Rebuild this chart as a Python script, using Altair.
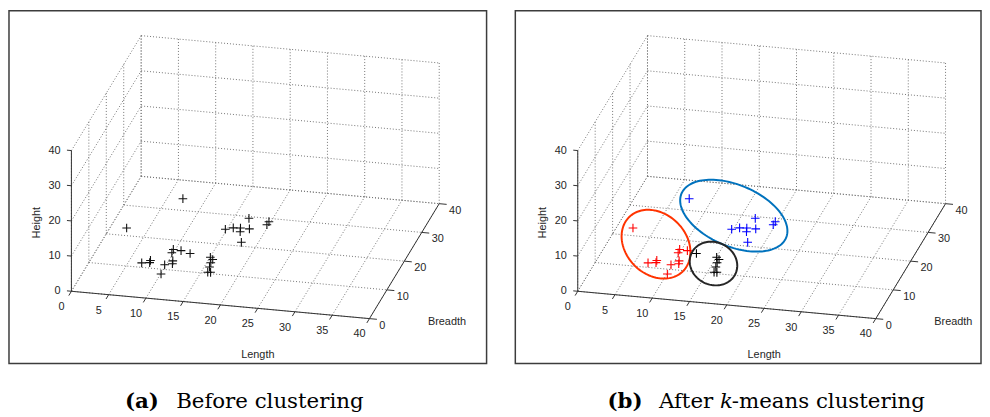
import altair as alt
import pandas as pd

# ---------------- data ----------------
length_ticks = [0, 5, 10, 15, 20, 25, 30, 35, 40]
breadth_ticks = [0, 10, 20, 30, 40]
height_ticks = [0, 10, 20, 30, 40]

lengths = [11.1, 20.2, 23.0, 22.7, 17.5, 18.4, 19.6, 19.3, 20.8, 20.0,
           5.4, 11.9, 11.7, 12.7, 8.1, 9.1, 9.3, 10.9, 11.8, 11.9, 10.6,
           13.8, 16.4, 16.6, 16.6, 16.5, 16.4, 16.5]
breadths = [16.5, 15.5, 15.0, 15.1, 13.5, 14.2, 13.2, 14.3, 13.2, 12.0,
            8.6, 7.6, 7.6, 8.6, 5.7, 6.0, 5.6, 6.9, 7.5, 7.3, 6.1,
            9.1, 9.6, 10.1, 9.0, 8.7, 8.1, 9.3]
heights = [15, 12, 12, 11, 10, 10, 11, 9, 11, 8,
           12, 8, 7, 7, 5, 5, 6, 4, 4, 5, 2,
           6, 5, 4, 4, 3, 2, 1]
clusters = ["blue", "blue", "blue", "blue", "blue", "blue", "blue", "blue", "blue", "blue",
            "red", "red", "red", "red", "red", "red", "red", "red", "red", "red", "red",
            "black", "black", "black", "black", "black", "black", "black"]

cluster_names = ["red", "blue", "black"]
point_colors = ["#ff0000", "#0000ff", "#000000"]
ring_colors = ["#ff3300", "#0072bd", "#262626"]

# hand-drawn cluster rings (screen plane, relative to the axes origin)
ring_cx = [79, 157.5, 137]
ring_cy = [47.5, 76.3, 28]
ring_a = [38.5, 57.3, 24.5]
ring_b = [30.5, 31.0, 21.5]
ring_rot = [45, 23, 25]

axis_titles = ["Length", "Breadth", "Height"]

# ---------------- projection (orthographic view, px per unit) ----------------
LX, BX = 7.52, 1.76
LY, BY, HY = -0.69, 2.9, 3.55


def px(l, b):
    return f"{LX}*datum.{l} + {BX}*datum.{b}"


def py(l, b, h):
    return f"{HY}*datum.{h} + ({LY})*datum.{l} + {BY}*datum.{b}"


LMAX, BMAX, HMAX = max(length_ticks), max(breadth_ticks), max(height_ticks)

segs = []
for l in length_ticks:
    segs.append((l, 0, 0, l, BMAX, 0))
    segs.append((l, BMAX, 0, l, BMAX, HMAX))
for b in breadth_ticks:
    segs.append((0, b, 0, LMAX, b, 0))
    segs.append((0, b, 0, 0, b, HMAX))
for h in height_ticks:
    segs.append((0, BMAX, h, LMAX, BMAX, h))
    segs.append((0, 0, h, 0, BMAX, h))
cols = ["L1", "B1", "H1", "L2", "B2", "H2"]
grid_df = pd.DataFrame(segs, columns=cols)

axis_segs = [(0, 0, 0, LMAX, 0, 0), (LMAX, 0, 0, LMAX, BMAX, 0), (0, 0, 0, 0, 0, HMAX)]
for l in length_ticks:
    axis_segs.append((l, 0, 0, l, -1.5, 0))
for b in breadth_ticks:
    axis_segs.append((LMAX, b, 0, LMAX + 1, b, 0))
for h in height_ticks:
    axis_segs.append((0, 0, h, -0.6, 0, h))
axis_df = pd.DataFrame(axis_segs, columns=cols)

len_lab = pd.DataFrame({"L": length_ticks, "B": 0, "H": 0, "t": [str(v) for v in length_ticks]})
br_lab = pd.DataFrame({"L": LMAX, "B": breadth_ticks, "H": 0, "t": [str(v) for v in breadth_ticks]})
ht_lab = pd.DataFrame({"L": 0, "B": 0, "H": height_ticks, "t": [str(v) for v in height_ticks]})
title_df = pd.DataFrame({"L": [28.6, 50.1], "B": [-15.3, 1.3], "H": [0, 0], "t": axis_titles[:2]})
htitle_df = pd.DataFrame({"L": [-4.6], "B": [0], "H": [18.6], "t": axis_titles[2:]})

points_df = pd.DataFrame({"L": lengths, "B": breadths, "H": heights, "cluster": clusters})
ring_df = pd.DataFrame({"ring": cluster_names, "cx": ring_cx, "cy": ring_cy,
                        "a": ring_a, "b": ring_b, "rot": ring_rot})

PLUS = "M-1,0L1,0M0,-1L0,1"
TICKFONT = "Liberation Sans"
TXT = "#262626"
H_VIEW = 356


def panel(width, colored, captions):
    xs = alt.Scale(domain=[-63, width - 63], nice=False, zero=False)
    ys = alt.Scale(domain=[283 - H_VIEW, 283], nice=False, zero=False)

    def seg_layer(df, **mk):
        return alt.Chart(df).transform_calculate(
            x1=px("L1", "B1"), y1=py("L1", "B1", "H1"),
            x2=px("L2", "B2"), y2=py("L2", "B2", "H2"),
        ).mark_rule(**mk).encode(
            x=alt.X("x1:Q", scale=xs, axis=None),
            y=alt.Y("y1:Q", scale=ys, axis=None),
            x2="x2:Q", y2="y2:Q",
        )

    def text_layer(df, **mk):
        return alt.Chart(df).transform_calculate(
            sx=px("L", "B"), sy=py("L", "B", "H")
        ).mark_text(**mk).encode(
            x=alt.X("sx:Q", scale=xs, axis=None),
            y=alt.Y("sy:Q", scale=ys, axis=None),
            text="t:N",
        )

    layers = [
        seg_layer(grid_df, color="#747474", strokeDash=[1, 2], strokeWidth=1),
        seg_layer(axis_df, color="#333333", strokeWidth=1),
        text_layer(len_lab, font=TICKFONT, fontSize=11, color=TXT, align="center",
                   baseline="middle", dx=-10, dy=16),
        text_layer(br_lab, font=TICKFONT, fontSize=11, color=TXT, align="left",
                   baseline="middle", dx=10, dy=7),
        text_layer(ht_lab, font=TICKFONT, fontSize=11, color=TXT, align="right",
                   baseline="middle", dx=-11),
        text_layer(title_df, font=TICKFONT, fontSize=11, color=TXT, align="center",
                   baseline="middle"),
        text_layer(htitle_df, font=TICKFONT, fontSize=11, color=TXT, align="center",
                   baseline="middle", angle=270),
    ]

    pt = alt.Chart(points_df).transform_calculate(
        sx=px("L", "B"), sy=py("L", "B", "H")
    ).mark_point(shape=PLUS, size=76, filled=False, strokeWidth=1.1, opacity=1)
    if colored:
        ring = alt.Chart(ring_df).transform_calculate(
            ts="sequence(0, 6.35, 0.05)"
        ).transform_flatten(["ts"]).transform_calculate(
            ex="datum.cx + datum.a*cos(datum.ts)*cos(datum.rot*PI/180) - datum.b*sin(datum.ts)*sin(datum.rot*PI/180)",
            ey="datum.cy - (datum.a*cos(datum.ts)*sin(datum.rot*PI/180) + datum.b*sin(datum.ts)*cos(datum.rot*PI/180))",
        ).mark_line(strokeWidth=2).encode(
            x=alt.X("ex:Q", scale=xs, axis=None),
            y=alt.Y("ey:Q", scale=ys, axis=None),
            detail="ring:N",
            order="ts:Q",
            color=alt.Color("ring:N", scale=alt.Scale(domain=cluster_names, range=ring_colors), legend=None),
        )
        layers.append(ring)
        pt = pt.encode(
            x=alt.X("sx:Q", scale=xs, axis=None),
            y=alt.Y("sy:Q", scale=ys, axis=None),
            color=alt.Color("cluster:N", scale=alt.Scale(domain=cluster_names, range=point_colors), legend=None),
        )
    else:
        pt = pt.encode(
            x=alt.X("sx:Q", scale=xs, axis=None),
            y=alt.Y("sy:Q", scale=ys, axis=None),
            color=alt.value("#111111"),
        )
    layers.append(pt)

    for text, xpos, weight, style in captions:
        mk = dict(font="DejaVu Serif", fontSize=21.5, color="#000000", align="left",
                  baseline="alphabetic", fontWeight=weight, fontStyle=style)
        layers.append(
            alt.Chart(pd.DataFrame({"t": [text]})).mark_text(**mk).encode(
                x=alt.value(xpos), y=alt.value(401), text="t:N")
        )

    ch = alt.layer(*layers).properties(width=width, height=H_VIEW)
    if colored:
        ch = ch.resolve_scale(color="independent")
    return ch


left = panel(482, False, [("(a)", 117, "bold", "normal"),
                          ("Before clustering", 168.7, "normal", "normal")])
right = panel(470, True, [("(b)", 93, "bold", "normal"),
                          ("After", 145, "normal", "normal"),
                          ("k", 206.5, "normal", "italic"),
                          ("-means clustering", 218.5, "normal", "normal")])

chart = alt.hconcat(left, right, spacing=29, bounds="flush").properties(
    padding=0
).configure_view(stroke="#3c3c3c", strokeWidth=1.5)

chart.save("out.html", embed_options={"renderer": "svg", "actions": False})
